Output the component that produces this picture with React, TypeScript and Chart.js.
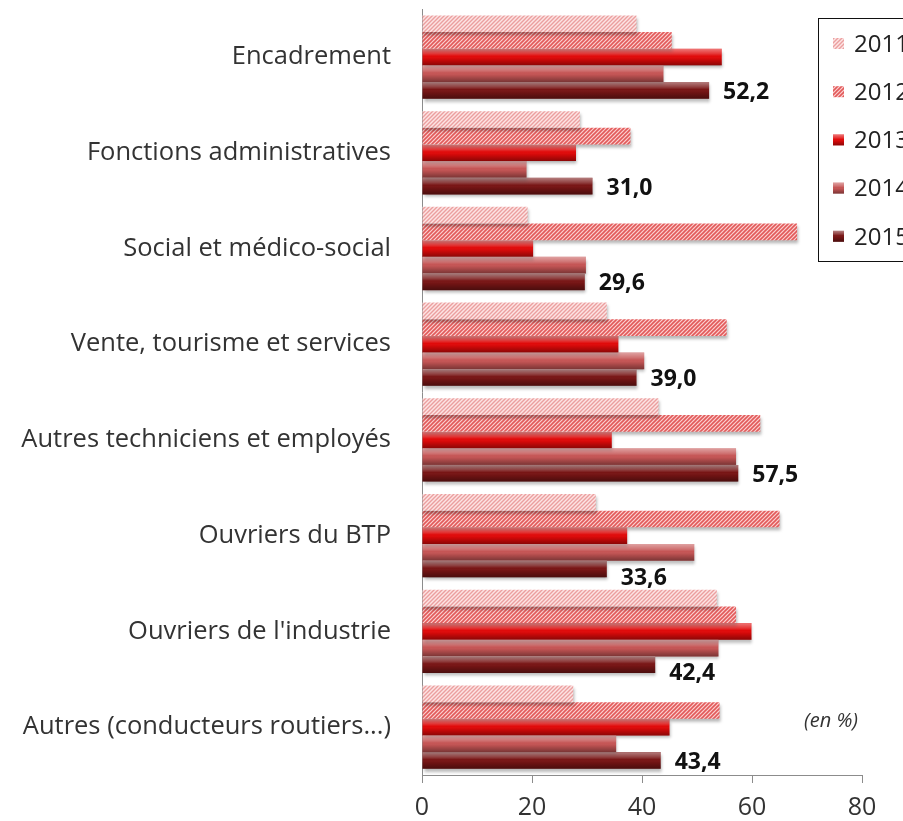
import React, { useEffect, useRef } from 'react';
import { Chart, registerables } from 'chart.js';

Chart.register(...registerables);

const categories = [
  'Encadrement',
  'Fonctions administratives',
  'Social et médico-social',
  'Vente, tourisme et services',
  'Autres techniciens et employés',
  'Ouvriers du BTP',
  "Ouvriers de l'industrie",
  'Autres (conducteurs routiers...)',
];
const years = ['2011', '2012', '2013', '2014', '2015'];
const values2011 = [39.0, 28.7, 19.2, 33.6, 43.0, 31.6, 53.6, 27.5];
const values2012 = [45.4, 37.9, 68.2, 55.4, 61.5, 65.0, 57.1, 54.1];
const values2013 = [54.5, 28.0, 20.2, 35.7, 34.5, 37.3, 59.9, 45.0];
const values2014 = [43.9, 19.0, 29.8, 40.4, 57.1, 49.5, 53.9, 35.3];
const values2015 = [52.2, 31.0, 29.6, 39.0, 57.5, 33.6, 42.4, 43.4];
const xTickStep = 20;
const xMax = 80;
const unitNote = '(en %)';

const FONT = '"Open Sans"';

function stripePattern(bg: string, fg: string, size: number, lw: number) {
  const c = document.createElement('canvas');
  c.width = size;
  c.height = size;
  const g = c.getContext('2d')!;
  g.fillStyle = bg;
  g.fillRect(0, 0, size, size);
  g.strokeStyle = fg;
  g.lineWidth = lw;
  g.beginPath();
  g.moveTo(0, size);
  g.lineTo(size, 0);
  g.moveTo(-size / 2, size / 2);
  g.lineTo(size / 2, -size / 2);
  g.moveTo(size / 2, size * 1.5);
  g.lineTo(size * 1.5, size / 2);
  g.stroke();
  return g.createPattern(c, 'repeat')!;
}

function shade(ctx: CanvasRenderingContext2D, x0: number, top: number, w: number, h: number) {
  const gr = ctx.createLinearGradient(0, top, 0, top + h);
  gr.addColorStop(0, 'rgba(255,255,255,0.45)');
  gr.addColorStop(0.3, 'rgba(255,255,255,0.18)');
  gr.addColorStop(0.45, 'rgba(255,255,255,0)');
  gr.addColorStop(0.6, 'rgba(0,0,0,0.05)');
  gr.addColorStop(1, 'rgba(0,0,0,0.38)');
  ctx.fillStyle = gr;
  ctx.fillRect(x0, top, w, h);
}

export default function App() {
  const ref = useRef<HTMLCanvasElement | null>(null);

  useEffect(() => {
    if (!ref.current) return;
    const p2011 = stripePattern('#fde4e4', '#eb9f9f', 4, 1.4);
    const p2012 = stripePattern('#fbd0d0', '#e25a5a', 4, 1.6);
    const fills: any[] = [p2011, p2012, '#e00a0a', '#c55555', '#781515'];
    const shaded = [false, false, true, true, true];
    const series = [values2011, values2012, values2013, values2014, values2015];

    const decor = {
      id: 'decor',
      beforeDatasetsDraw(chart: any) {
        const ctx = chart.ctx;
        ctx.save();
        ctx.shadowColor = 'rgba(0,0,0,0.28)';
        ctx.shadowOffsetX = 1;
        ctx.shadowOffsetY = 3;
        ctx.shadowBlur = 3;
      },
      afterDatasetsDraw(chart: any) {
        const ctx = chart.ctx;
        ctx.restore();
        chart.data.datasets.forEach((ds: any, di: number) => {
          if (!shaded[di]) return;
          const meta = chart.getDatasetMeta(di);
          meta.data.forEach((el: any) => {
            const p = el.getProps(['x', 'y', 'base', 'height'], true);
            const left = Math.min(p.base, p.x);
            const w = Math.abs(p.x - p.base);
            shade(ctx, left, p.y - p.height / 2, w, p.height);
          });
        });
        const last = chart.data.datasets.length - 1;
        const m = chart.getDatasetMeta(last);
        const mPrev = chart.getDatasetMeta(last - 1);
        ctx.save();
        ctx.font = `bold 23px ${FONT}`;
        ctx.fillStyle = '#111';
        ctx.textAlign = 'left';
        ctx.textBaseline = 'middle';
        m.data.forEach((el: any, i: number) => {
          const p = el.getProps(['x', 'y'], true);
          const lx = p.x + 14;
          const prev = mPrev.data[i].getProps(['x'], true);
          const dy = prev.x > lx ? 9 : 2;
          const v = chart.data.datasets[last].data[i] as number;
          ctx.fillText(v.toFixed(1).replace('.', ','), lx, p.y + dy);
        });
        ctx.restore();
      },
      afterDraw(chart: any) {
        const ctx = chart.ctx;
        ctx.save();
        ctx.font = `italic 20px ${FONT}`;
        ctx.fillStyle = '#333';
        ctx.textAlign = 'right';
        ctx.textBaseline = 'middle';
        ctx.fillText(unitNote, 858, 721);
        ctx.strokeStyle = '#111';
        ctx.lineWidth = 1;
        ctx.strokeRect(818.5, 18.5, 110, 243);
        ctx.font = `24px ${FONT}`;
        ctx.textAlign = 'left';
        chart.data.datasets.forEach((ds: any, i: number) => {
          const cy = 44 + i * 48.2;
          ctx.save();
          ctx.fillStyle = fills[i];
          ctx.fillRect(833, cy - 6, 11, 11);
          if (shaded[i]) shade(ctx, 833, cy - 6, 11, 11);
          ctx.restore();
          ctx.fillStyle = '#222';
          ctx.fillText(ds.label, 854, cy + 1);
        });
        ctx.restore();
      },
    };

    const chart = new Chart(ref.current, {
      type: 'bar',
      data: {
        labels: categories,
        datasets: years.map((y, i) => ({
          label: y,
          data: series[i],
          backgroundColor: fills[i],
          borderWidth: 0,
          barPercentage: 1,
          categoryPercentage: 0.87,
        })),
      },
      options: {
        indexAxis: 'y',
        animation: false,
        responsive: true,
        maintainAspectRatio: false,
        layout: { padding: { top: 0, right: 41, left: 0, bottom: 0 } },
        plugins: {
          legend: { display: false },
          tooltip: { enabled: false },
        },
        scales: {
          x: {
            min: 0,
            max: xMax,
            ticks: {
              stepSize: xTickStep,
              font: { family: FONT, size: 25 },
              color: '#333',
              padding: 10,
            },
            grid: {
              display: true,
              drawOnChartArea: false,
              drawTicks: true,
              tickLength: 8,
              color: '#8c8c8c',
            },
            border: { display: true, color: '#8c8c8c' },
            afterFit: (s: any) => {
              s.height = 46;
            },
          },
          y: {
            grid: { display: false, drawTicks: true, tickLength: 31 },
            border: { display: true, color: '#8c8c8c' },
            ticks: {
              font: { family: FONT, size: 25.5, lineHeight: 0.72 },
              color: '#333',
              padding: 0,
            },
            afterFit: (s: any) => {
              s.width = 422;
            },
          },
        },
      },
      plugins: [decor],
    } as any);
    return () => chart.destroy();
  }, []);

  return (
    <div style={{ position: 'fixed', left: 0, top: 0, width: 903, height: 821, background: '#fff' }}>
      <canvas ref={ref} />
    </div>
  );
}
